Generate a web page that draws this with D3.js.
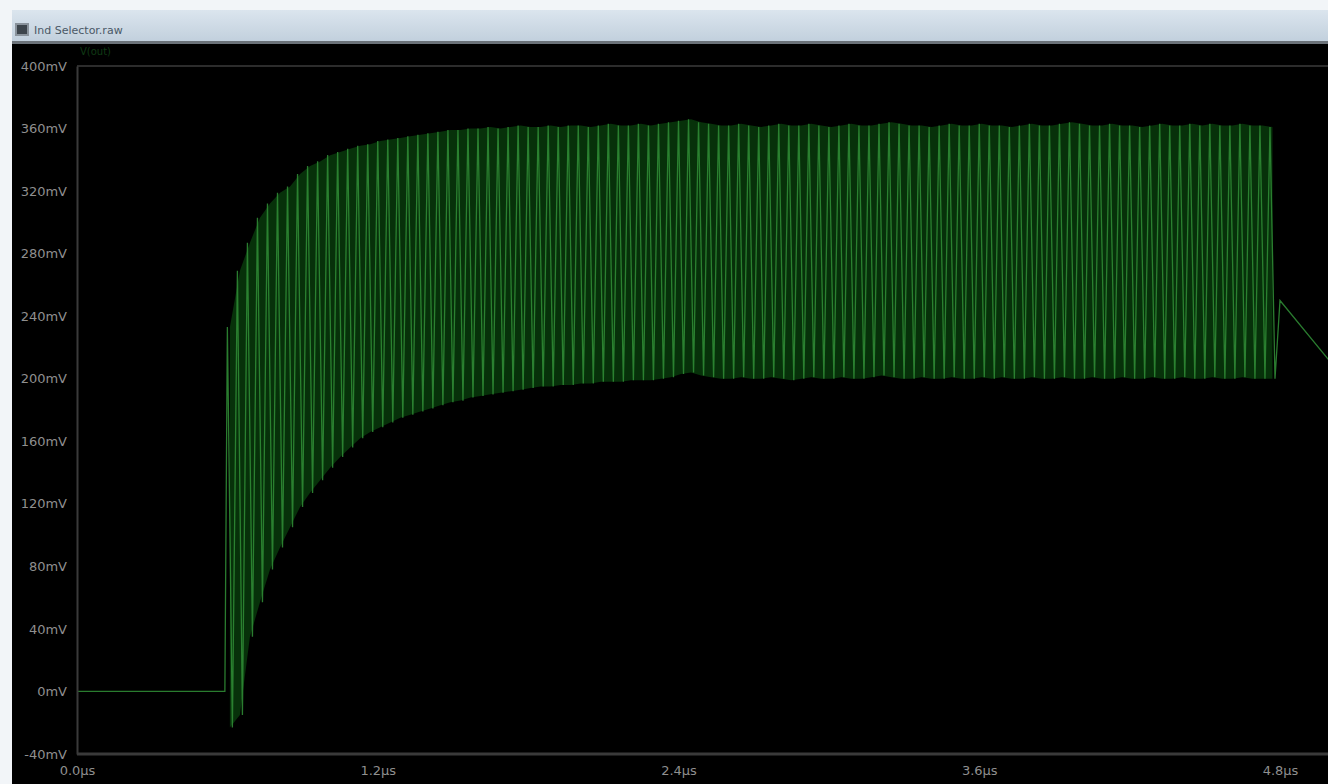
<!DOCTYPE html>
<html><head><meta charset="utf-8">
<script src="https://cdn.jsdelivr.net/npm/d3@7"></script>
<style>
html,body{margin:0;padding:0;background:#fff;}
svg{display:block;}
</style></head>
<body>
<svg id="c" width="1328" height="784"></svg>
<script>
// ---- data ----
const windowTitle = "Ind Selector.raw";
const traceName = "V(out)";
const yTicks = [-40, 0, 40, 80, 120, 160, 200, 240, 280, 320, 360, 400]; // mV
const xTicks = [0.0, 1.2, 2.4, 3.6, 4.8]; // µs
// flat part before switching starts (t µs, mV)
const leadIn = [[0.0, 0], [0.59, 0]];
// switching cycles: start time and period (µs)
const cycleStart = 0.6;
const cyclePeriod = 0.04;
// peak (high) and valley (low) of each cycle, mV
const highs = [233,269,287,303,312,319,323,331,336,339,343,345,347,349,350,352,353,354,355,356,
  357,358,359,359,360,360,361,360,361,362,361,361,362,361,362,362,361,362,363,362,
  362,363,362,363,364,365,366,364,363,362,362,363,362,361,362,363,362,362,363,362,
  361,362,363,362,362,363,364,363,362,362,361,362,363,362,362,363,362,362,361,362,
  363,362,362,363,364,363,362,362,363,362,362,361,362,363,362,362,363,362,363,362,
  362,363,362,362,361];
const lows = [-23,-15,35,57,78,92,105,118,127,135,143,150,156,162,166,169,172,175,177,179,
  181,183,185,186,188,189,190,191,192,193,194,195,195,196,196,197,197,198,198,198,
  199,199,199,200,201,203,204,202,201,200,200,201,200,200,201,200,199,200,201,200,
  200,201,200,200,201,202,201,200,200,201,200,200,201,200,200,201,200,201,200,200,
  201,200,200,201,200,200,201,200,200,201,200,200,201,200,200,201,200,200,201,200,
  200,201,200,200,200];
// after switching stops (t µs, mV)
const tail = [[4.80, 250], [5.01, 209]];

// ---- layout ----
const W = 1328, H = 784;
const mLeft = 77, mTop = 66, mBottom = 754;
const svg = d3.select("#c");

// background
svg.append("rect").attr("width", W).attr("height", H).attr("fill", "#000");
// window frame: white left border, title bar
svg.append("rect").attr("x", 0).attr("y", 0).attr("width", 12).attr("height", H).attr("fill", "#f2f5f8");
svg.append("rect").attr("x", 0).attr("y", 0).attr("width", W).attr("height", 10).attr("fill", "#f2f5f8");
const defs = svg.append("defs");
const grad = defs.append("linearGradient").attr("id", "tb").attr("x1", 0).attr("x2", 0).attr("y1", 0).attr("y2", 1);
grad.append("stop").attr("offset", "0%").attr("stop-color", "#dbe5ee");
grad.append("stop").attr("offset", "100%").attr("stop-color", "#c2d0dd");
svg.append("rect").attr("x", 12).attr("y", 10).attr("width", W - 12).attr("height", 31).attr("fill", "url(#tb)");
svg.append("rect").attr("x", 12).attr("y", 41).attr("width", W - 12).attr("height", 3).attr("fill", "#6c737a");
// title icon + text
svg.append("rect").attr("x", 15).attr("y", 23).attr("width", 14).attr("height", 13).attr("fill", "#8a939c");
svg.append("rect").attr("x", 17).attr("y", 25).attr("width", 10).attr("height", 9).attr("fill", "#3d454c");
svg.append("text").attr("x", 34).attr("y", 34).text(windowTitle)
  .attr("font-family", "DejaVu Sans").attr("font-size", 11).attr("fill", "#4a5866");

// trace label
svg.append("text").attr("x", 80).attr("y", 55).text(traceName)
  .attr("font-family", "DejaVu Sans").attr("font-size", 10).attr("fill", "#0f3a14");

// scales
const x = d3.scaleLinear().domain([0, 4.8]).range([mLeft, 1280]);
const y = d3.scaleLinear().domain([-40, 400]).range([mBottom, mTop]);

// frame lines
svg.append("line").attr("x1", mLeft).attr("x2", W).attr("y1", mTop).attr("y2", mTop)
  .attr("stroke", "#2c2c2c").attr("stroke-width", 2);

// build waveform points
const pts = leadIn.slice();
highs.forEach((h, k) => {
  const t = cycleStart + k * cyclePeriod;
  pts.push([t, h]);
  pts.push([t + cyclePeriod / 2, lows[k]]);
});
tail.forEach(p => pts.push(p));

// envelope band (blurred look)
const band = highs.map((h, k) => ({t: cycleStart + k * cyclePeriod + cyclePeriod / 4, h, l: lows[k]}));
const clip = defs.append("clipPath").attr("id", "pc");
clip.append("rect").attr("x", mLeft).attr("y", mTop - 20).attr("width", W - mLeft).attr("height", mBottom - mTop + 20);
const plot = svg.append("g").attr("clip-path", "url(#pc)");
plot.append("path").datum(band)
  .attr("d", d3.area().x(d => x(d.t)).y0(d => y(d.l)).y1(d => y(d.h)))
  .attr("fill", "#083a0c").attr("opacity", 0.85);
plot.append("path").datum(pts)
  .attr("d", d3.line().x(d => x(d[0])).y(d => y(d[1])))
  .attr("fill", "none").attr("stroke", "#2f8a34").attr("stroke-width", 1.3).attr("opacity", 0.9);

// axes
const yAxis = d3.axisLeft(y).tickValues(yTicks).tickSize(0).tickPadding(10)
  .tickFormat(d => d + "mV");
const gy = svg.append("g").attr("transform", `translate(${mLeft},0)`).call(yAxis);
gy.select(".domain").attr("stroke", "#3a3a3a").attr("stroke-width", 2);
gy.selectAll("text").attr("fill", "#8f8f8f").attr("font-family", "DejaVu Sans").attr("font-size", 13);

const xAxis = d3.axisBottom(x).tickValues(xTicks).tickSize(0).tickPadding(12)
  .tickFormat(d => d.toFixed(1) + "µs");
const gx = svg.append("g").attr("transform", `translate(0,${mBottom})`).call(xAxis);
gx.select(".domain").remove();
svg.append("line").attr("x1", mLeft).attr("x2", W).attr("y1", mBottom).attr("y2", mBottom)
  .attr("stroke", "#3a3a3a").attr("stroke-width", 3);
gx.selectAll("text").attr("fill", "#8f8f8f").attr("font-family", "DejaVu Sans").attr("font-size", 13);
</script>
</body></html>
